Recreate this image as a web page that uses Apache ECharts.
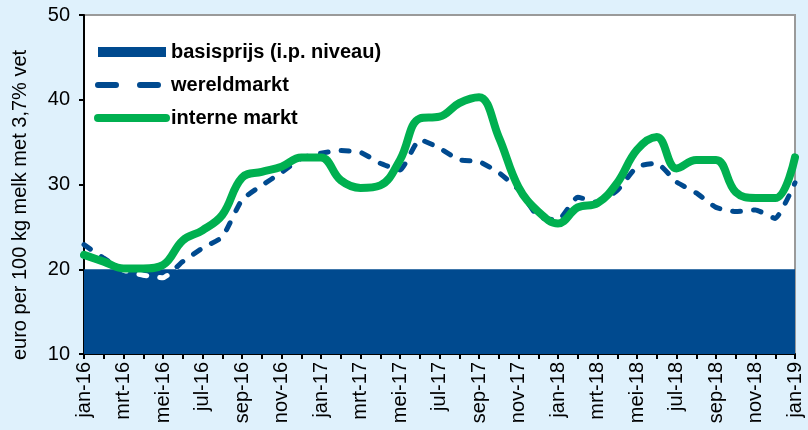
<!DOCTYPE html>
<html>
<head>
<meta charset="utf-8">
<script src="https://cdn.jsdelivr.net/npm/echarts@6/dist/echarts.min.js"></script>
<style>
html,body{margin:0;padding:0;background:#dff1fc;}
#chart{width:808px;height:430px;}
</style>
</head>
<body>
<div id="chart"></div>
<script>
const categories = [
  'jan-16','feb-16','mrt-16','apr-16','mei-16','jun-16','jul-16','aug-16','sep-16','okt-16','nov-16','dec-16',
  'jan-17','feb-17','mrt-17','apr-17','mei-17','jun-17','jul-17','aug-17','sep-17','okt-17','nov-17','dec-17',
  'jan-18','feb-18','mrt-18','apr-18','mei-18','jun-18','jul-18','aug-18','sep-18','okt-18','nov-18','dec-18',
  'jan-19'
];
const basisprijs = [20,20,20,20,20,20,20,20,20,20,20,20,20,20,20,20,20,20,20,20,20,20,20,20,20,20,20,20,20,20,20,20,20,20,20,20,20];
const wereldmarkt = [22.9,21.3,19.9,19.3,19.0,20.9,22.5,23.8,28.2,29.9,31.4,33.1,
  33.7,34.0,33.8,32.5,31.7,35.3,34.3,32.9,32.7,31.4,29.4,26.2,
  25.8,28.5,27.9,29.3,32.1,32.5,30.3,29.0,27.3,26.8,27.0,26.0,30.2];
const interneMarkt = [21.7,20.9,20.1,20.1,20.5,23.4,24.6,26.4,30.8,31.5,32.1,33.2,
  33.2,30.5,29.6,29.9,32.9,37.8,38.0,39.6,40.3,35.6,29.7,26.8,
  25.4,27.3,27.8,30.2,34.1,35.6,31.9,32.9,32.9,29.1,28.4,28.4,33.2];
const yTicks = {min:10, max:50, interval:10};
const yTitle = 'euro per 100 kg melk met 3,7% vet';
const basisLevel = 20;

const FONT = 'Liberation Sans, Arial, sans-serif';
const BLUE = '#004a8f';
const GREEN = '#00b050';
const chart = echarts.init(document.getElementById('chart'), null, {renderer:'canvas'});
const option = {
  backgroundColor:'#dff1fc',
  animation:false,
  textStyle:{fontFamily:FONT},
  grid:{left:84,right:13,top:15,bottom:76,show:true,backgroundColor:'#ffffff',borderColor:'#9a9a9a',borderWidth:2},
  legend:{
    orient:'vertical',left:89,top:37,itemWidth:68,itemHeight:10,itemGap:13,
    textStyle:{fontFamily:FONT,fontSize:20,fontWeight:'bold',color:'#000',lineHeight:20},
    data:[
      {name:'basisprijs (i.p. niveau)',icon:'rect',itemStyle:{color:BLUE}},
      {name:'wereldmarkt',itemStyle:{opacity:0},lineStyle:{width:6,color:BLUE,type:[18,24],cap:'round'}},
      {name:'interne markt',itemStyle:{opacity:0},lineStyle:{width:8,color:GREEN,cap:'round'}}
    ]
  },
  xAxis:{
    type:'category',data:categories,boundaryGap:false,
    axisLine:{lineStyle:{color:'#000',width:2}},
    axisTick:{show:true,interval:0,length:5,lineStyle:{color:'#000',width:2}},
    axisLabel:{interval:1,rotate:90,fontSize:20,color:'#000',fontFamily:FONT,margin:8},
    splitLine:{show:false}
  },
  yAxis:{
    type:'value',min:yTicks.min,max:yTicks.max,interval:yTicks.interval,
    axisLine:{show:true,lineStyle:{color:'#000',width:2}},
    axisTick:{show:true,length:5,lineStyle:{color:'#000',width:2}},
    axisLabel:{fontSize:20,color:'#000',fontFamily:FONT,margin:14},
    splitLine:{show:false}
  },
  graphic:[{
    type:'text',x:20,y:205,rotation:Math.PI/2,
    style:{text:yTitle,fontSize:20,fontFamily:FONT,fill:'#000',textAlign:'center',textVerticalAlign:'middle'}
  }],
  series:[
    {name:'basisprijs (i.p. niveau)',type:'line',data:basisprijs,symbol:'none',showSymbol:false,
     itemStyle:{color:BLUE},lineStyle:{width:0,color:BLUE},
     areaStyle:{color:BLUE,opacity:1,origin:'start'},z:1},
    {name:'wereldmarkt',type:'line',data:wereldmarkt,symbol:'none',showSymbol:false,smooth:0.15,
     itemStyle:{color:BLUE},
     lineStyle:{width:5,color:BLUE,type:[8,13],cap:'round'},z:2},
    {name:'interne markt',type:'line',data:interneMarkt,symbol:'none',showSymbol:false,smooth:0.4,
     itemStyle:{color:GREEN},
     lineStyle:{width:8,color:GREEN,cap:'round'},z:3}
  ]
};
chart.setOption(option);
// dashed world-market line turns white where it dips below the base price area
const yPix = chart.convertToPixel({yAxisIndex:0}, basisLevel);
const H = 430;
const f = yPix / H;
chart.setOption({series:[{}, {lineStyle:{color:new echarts.graphic.LinearGradient(0,0,0,H,[
  {offset:0,color:BLUE},{offset:f,color:BLUE},{offset:f,color:'#ffffff'},{offset:1,color:'#ffffff'}
],true)}}, {}]});
</script>
</body>
</html>
